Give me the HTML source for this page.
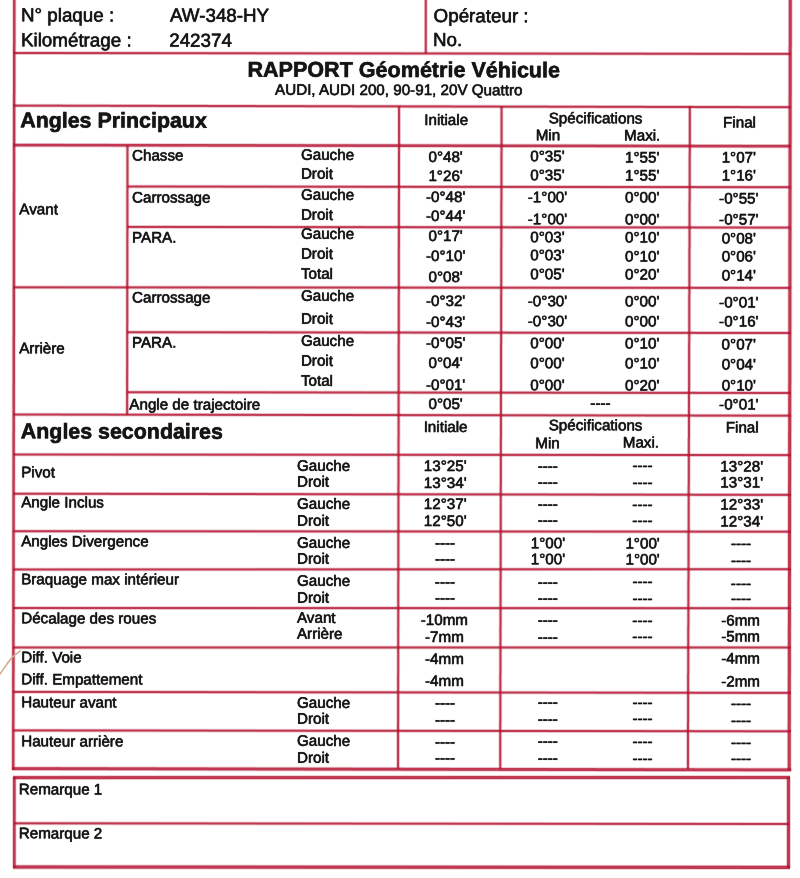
<!DOCTYPE html>
<html lang="fr">
<head>
<meta charset="utf-8">
<title>RAPPORT Géométrie Véhicule</title>
<style>
html,body{margin:0;padding:0;background:#fff;}
body{width:800px;height:878px;position:relative;overflow:hidden;font-family:"Liberation Sans",sans-serif;color:#151515;}
#pg{position:absolute;left:0;top:0;width:800px;height:878px;overflow:hidden;background:#fff;}
.t{position:absolute;white-space:nowrap;line-height:1;}
.c{transform:translateX(-50%);}
.b{font-weight:bold;}
.d{-webkit-text-stroke:0.55px #151515;}
.ln{position:absolute;}
#lines,#txt{position:absolute;left:0;top:0;width:800px;height:878px;}
#txt{-webkit-text-stroke:0.45px #151515;text-shadow:0 0 0.8px #151515;filter:grayscale(1);transform:rotate(0.1deg);transform-origin:400px 439px;}
</style>
</head>
<body>
<div id="pg">
<svg id="lines" width="800" height="878" viewBox="0 0 800 878">
<g fill="#b41432" stroke="none">
<g fill-opacity="0.24">
<rect x="12.22" y="-2.00" width="4.10" height="48.00"/>
<rect x="12.15" y="46.00" width="4.10" height="48.00"/>
<rect x="12.08" y="94.00" width="4.10" height="49.00"/>
<rect x="12.01" y="143.00" width="4.10" height="48.00"/>
<rect x="11.94" y="191.00" width="4.10" height="48.00"/>
<rect x="11.87" y="239.00" width="4.10" height="49.00"/>
<rect x="11.80" y="288.00" width="4.10" height="48.00"/>
<rect x="11.74" y="336.00" width="4.10" height="48.00"/>
<rect x="11.67" y="384.00" width="4.10" height="48.00"/>
<rect x="11.60" y="432.00" width="4.10" height="48.00"/>
<rect x="11.53" y="480.00" width="4.10" height="49.00"/>
<rect x="11.46" y="529.00" width="4.10" height="48.00"/>
<rect x="11.39" y="577.00" width="4.10" height="48.00"/>
<rect x="11.32" y="625.00" width="4.10" height="49.00"/>
<rect x="11.25" y="674.00" width="4.10" height="48.00"/>
<rect x="11.18" y="722.00" width="4.10" height="48.00"/>
<rect x="787.92" y="-2.00" width="4.70" height="48.00"/>
<rect x="787.85" y="46.00" width="4.70" height="49.00"/>
<rect x="787.78" y="95.00" width="4.70" height="48.00"/>
<rect x="787.71" y="143.00" width="4.70" height="48.00"/>
<rect x="787.64" y="191.00" width="4.70" height="48.00"/>
<rect x="787.57" y="239.00" width="4.70" height="49.00"/>
<rect x="787.50" y="288.00" width="4.70" height="48.00"/>
<rect x="787.44" y="336.00" width="4.70" height="48.00"/>
<rect x="787.37" y="384.00" width="4.70" height="48.00"/>
<rect x="787.30" y="432.00" width="4.70" height="49.00"/>
<rect x="787.23" y="481.00" width="4.70" height="48.00"/>
<rect x="787.16" y="529.00" width="4.70" height="48.00"/>
<rect x="787.09" y="577.00" width="4.70" height="49.00"/>
<rect x="787.02" y="626.00" width="4.70" height="48.00"/>
<rect x="786.95" y="674.00" width="4.70" height="48.00"/>
<rect x="786.88" y="722.00" width="4.70" height="48.40"/>
<rect x="423.95" y="-2.00" width="3.70" height="55.60"/>
<rect x="125.62" y="145.60" width="3.70" height="44.40"/>
<rect x="125.55" y="190.00" width="3.70" height="45.00"/>
<rect x="125.48" y="235.00" width="3.70" height="45.00"/>
<rect x="125.42" y="280.00" width="3.70" height="45.00"/>
<rect x="125.35" y="325.00" width="3.70" height="45.00"/>
<rect x="125.28" y="370.00" width="3.70" height="44.80"/>
<rect x="397.21" y="106.00" width="3.70" height="47.00"/>
<rect x="397.13" y="153.00" width="3.70" height="48.00"/>
<rect x="397.05" y="201.00" width="3.70" height="47.00"/>
<rect x="396.98" y="248.00" width="3.70" height="47.00"/>
<rect x="396.90" y="295.00" width="3.70" height="48.00"/>
<rect x="396.82" y="343.00" width="3.70" height="47.00"/>
<rect x="396.74" y="390.00" width="3.70" height="48.00"/>
<rect x="396.66" y="438.00" width="3.70" height="47.00"/>
<rect x="396.58" y="485.00" width="3.70" height="47.00"/>
<rect x="396.50" y="532.00" width="3.70" height="48.00"/>
<rect x="396.42" y="580.00" width="3.70" height="47.00"/>
<rect x="396.35" y="627.00" width="3.70" height="47.00"/>
<rect x="396.27" y="674.00" width="3.70" height="48.00"/>
<rect x="396.19" y="722.00" width="3.70" height="47.00"/>
<rect x="499.70" y="106.00" width="3.70" height="47.00"/>
<rect x="499.60" y="153.00" width="3.70" height="48.00"/>
<rect x="499.50" y="201.00" width="3.70" height="47.00"/>
<rect x="499.40" y="248.00" width="3.70" height="47.00"/>
<rect x="499.30" y="295.00" width="3.70" height="48.00"/>
<rect x="499.20" y="343.00" width="3.70" height="47.00"/>
<rect x="499.10" y="390.00" width="3.70" height="48.00"/>
<rect x="499.00" y="438.00" width="3.70" height="47.00"/>
<rect x="498.90" y="485.00" width="3.70" height="47.00"/>
<rect x="498.80" y="532.00" width="3.70" height="48.00"/>
<rect x="498.70" y="580.00" width="3.70" height="47.00"/>
<rect x="498.60" y="627.00" width="3.70" height="47.00"/>
<rect x="498.50" y="674.00" width="3.70" height="48.00"/>
<rect x="498.40" y="722.00" width="3.70" height="47.00"/>
<rect x="687.98" y="106.00" width="3.70" height="47.00"/>
<rect x="687.84" y="153.00" width="3.70" height="48.00"/>
<rect x="687.69" y="201.00" width="3.70" height="47.00"/>
<rect x="687.55" y="248.00" width="3.70" height="47.00"/>
<rect x="687.41" y="295.00" width="3.70" height="48.00"/>
<rect x="687.26" y="343.00" width="3.70" height="47.00"/>
<rect x="687.12" y="390.00" width="3.70" height="48.00"/>
<rect x="686.98" y="438.00" width="3.70" height="47.00"/>
<rect x="686.84" y="485.00" width="3.70" height="47.00"/>
<rect x="686.69" y="532.00" width="3.70" height="48.00"/>
<rect x="686.55" y="580.00" width="3.70" height="47.00"/>
<rect x="686.41" y="627.00" width="3.70" height="47.00"/>
<rect x="686.26" y="674.00" width="3.70" height="48.00"/>
<rect x="686.12" y="722.00" width="3.70" height="47.00"/>
<rect x="13.00" y="51.18" width="49.00" height="3.70"/>
<rect x="62.00" y="51.23" width="48.00" height="3.70"/>
<rect x="110.00" y="51.29" width="49.00" height="3.70"/>
<rect x="159.00" y="51.35" width="49.00" height="3.70"/>
<rect x="208.00" y="51.40" width="48.00" height="3.70"/>
<rect x="256.00" y="51.46" width="49.00" height="3.70"/>
<rect x="305.00" y="51.52" width="48.00" height="3.70"/>
<rect x="353.00" y="51.57" width="49.00" height="3.70"/>
<rect x="402.00" y="51.63" width="49.00" height="3.70"/>
<rect x="451.00" y="51.68" width="48.00" height="3.70"/>
<rect x="499.00" y="51.74" width="49.00" height="3.70"/>
<rect x="548.00" y="51.80" width="48.00" height="3.70"/>
<rect x="596.00" y="51.85" width="49.00" height="3.70"/>
<rect x="645.00" y="51.91" width="49.00" height="3.70"/>
<rect x="694.00" y="51.97" width="48.00" height="3.70"/>
<rect x="742.00" y="52.02" width="49.00" height="3.70"/>
<rect x="13.00" y="103.80" width="49.00" height="3.70"/>
<rect x="62.00" y="103.90" width="48.00" height="3.70"/>
<rect x="110.00" y="104.00" width="49.00" height="3.70"/>
<rect x="159.00" y="104.10" width="49.00" height="3.70"/>
<rect x="208.00" y="104.20" width="48.00" height="3.70"/>
<rect x="256.00" y="104.30" width="49.00" height="3.70"/>
<rect x="305.00" y="104.40" width="48.00" height="3.70"/>
<rect x="353.00" y="104.50" width="49.00" height="3.70"/>
<rect x="402.00" y="104.60" width="49.00" height="3.70"/>
<rect x="451.00" y="104.70" width="48.00" height="3.70"/>
<rect x="499.00" y="104.80" width="49.00" height="3.70"/>
<rect x="548.00" y="104.90" width="48.00" height="3.70"/>
<rect x="596.00" y="105.00" width="49.00" height="3.70"/>
<rect x="645.00" y="105.10" width="49.00" height="3.70"/>
<rect x="694.00" y="105.20" width="48.00" height="3.70"/>
<rect x="742.00" y="105.30" width="49.00" height="3.70"/>
<rect x="13.00" y="142.98" width="49.00" height="4.30"/>
<rect x="62.00" y="143.05" width="48.00" height="4.30"/>
<rect x="110.00" y="143.12" width="49.00" height="4.30"/>
<rect x="159.00" y="143.19" width="49.00" height="4.30"/>
<rect x="208.00" y="143.26" width="48.00" height="4.30"/>
<rect x="256.00" y="143.33" width="49.00" height="4.30"/>
<rect x="305.00" y="143.40" width="48.00" height="4.30"/>
<rect x="353.00" y="143.47" width="49.00" height="4.30"/>
<rect x="402.00" y="143.53" width="49.00" height="4.30"/>
<rect x="451.00" y="143.60" width="48.00" height="4.30"/>
<rect x="499.00" y="143.67" width="49.00" height="4.30"/>
<rect x="548.00" y="143.74" width="48.00" height="4.30"/>
<rect x="596.00" y="143.81" width="49.00" height="4.30"/>
<rect x="645.00" y="143.88" width="49.00" height="4.30"/>
<rect x="694.00" y="143.95" width="48.00" height="4.30"/>
<rect x="742.00" y="144.02" width="49.00" height="4.30"/>
<rect x="127.40" y="184.69" width="47.60" height="3.70"/>
<rect x="175.00" y="184.74" width="47.00" height="3.70"/>
<rect x="222.00" y="184.79" width="48.00" height="3.70"/>
<rect x="270.00" y="184.84" width="47.00" height="3.70"/>
<rect x="317.00" y="184.89" width="47.00" height="3.70"/>
<rect x="364.00" y="184.94" width="48.00" height="3.70"/>
<rect x="412.00" y="184.98" width="47.00" height="3.70"/>
<rect x="459.00" y="185.03" width="48.00" height="3.70"/>
<rect x="507.00" y="185.08" width="47.00" height="3.70"/>
<rect x="554.00" y="185.13" width="47.00" height="3.70"/>
<rect x="601.00" y="185.18" width="48.00" height="3.70"/>
<rect x="649.00" y="185.23" width="47.00" height="3.70"/>
<rect x="696.00" y="185.28" width="48.00" height="3.70"/>
<rect x="744.00" y="185.33" width="47.00" height="3.70"/>
<rect x="127.30" y="225.09" width="47.70" height="3.70"/>
<rect x="175.00" y="225.14" width="47.00" height="3.70"/>
<rect x="222.00" y="225.19" width="48.00" height="3.70"/>
<rect x="270.00" y="225.24" width="47.00" height="3.70"/>
<rect x="317.00" y="225.29" width="47.00" height="3.70"/>
<rect x="364.00" y="225.34" width="48.00" height="3.70"/>
<rect x="412.00" y="225.38" width="47.00" height="3.70"/>
<rect x="459.00" y="225.43" width="48.00" height="3.70"/>
<rect x="507.00" y="225.48" width="47.00" height="3.70"/>
<rect x="554.00" y="225.53" width="47.00" height="3.70"/>
<rect x="601.00" y="225.58" width="48.00" height="3.70"/>
<rect x="649.00" y="225.63" width="47.00" height="3.70"/>
<rect x="696.00" y="225.68" width="48.00" height="3.70"/>
<rect x="744.00" y="225.73" width="47.00" height="3.70"/>
<rect x="13.00" y="285.47" width="49.00" height="3.70"/>
<rect x="62.00" y="285.51" width="48.00" height="3.70"/>
<rect x="110.00" y="285.54" width="49.00" height="3.70"/>
<rect x="159.00" y="285.58" width="49.00" height="3.70"/>
<rect x="208.00" y="285.62" width="48.00" height="3.70"/>
<rect x="256.00" y="285.66" width="49.00" height="3.70"/>
<rect x="305.00" y="285.69" width="48.00" height="3.70"/>
<rect x="353.00" y="285.73" width="49.00" height="3.70"/>
<rect x="402.00" y="285.77" width="49.00" height="3.70"/>
<rect x="451.00" y="285.81" width="48.00" height="3.70"/>
<rect x="499.00" y="285.84" width="49.00" height="3.70"/>
<rect x="548.00" y="285.88" width="48.00" height="3.70"/>
<rect x="596.00" y="285.92" width="49.00" height="3.70"/>
<rect x="645.00" y="285.96" width="49.00" height="3.70"/>
<rect x="694.00" y="285.99" width="48.00" height="3.70"/>
<rect x="742.00" y="286.03" width="49.00" height="3.70"/>
<rect x="127.20" y="330.41" width="47.80" height="3.70"/>
<rect x="175.00" y="330.46" width="47.00" height="3.70"/>
<rect x="222.00" y="330.52" width="47.00" height="3.70"/>
<rect x="269.00" y="330.57" width="48.00" height="3.70"/>
<rect x="317.00" y="330.63" width="47.00" height="3.70"/>
<rect x="364.00" y="330.68" width="48.00" height="3.70"/>
<rect x="412.00" y="330.74" width="47.00" height="3.70"/>
<rect x="459.00" y="330.79" width="48.00" height="3.70"/>
<rect x="507.00" y="330.85" width="47.00" height="3.70"/>
<rect x="554.00" y="330.90" width="47.00" height="3.70"/>
<rect x="601.00" y="330.96" width="48.00" height="3.70"/>
<rect x="649.00" y="331.01" width="47.00" height="3.70"/>
<rect x="696.00" y="331.07" width="48.00" height="3.70"/>
<rect x="744.00" y="331.12" width="47.00" height="3.70"/>
<rect x="127.10" y="390.41" width="47.90" height="3.70"/>
<rect x="175.00" y="390.46" width="47.00" height="3.70"/>
<rect x="222.00" y="390.52" width="47.00" height="3.70"/>
<rect x="269.00" y="390.57" width="48.00" height="3.70"/>
<rect x="317.00" y="390.63" width="47.00" height="3.70"/>
<rect x="364.00" y="390.68" width="48.00" height="3.70"/>
<rect x="412.00" y="390.74" width="47.00" height="3.70"/>
<rect x="459.00" y="390.79" width="47.00" height="3.70"/>
<rect x="506.00" y="390.85" width="48.00" height="3.70"/>
<rect x="554.00" y="390.90" width="47.00" height="3.70"/>
<rect x="601.00" y="390.96" width="48.00" height="3.70"/>
<rect x="649.00" y="391.01" width="47.00" height="3.70"/>
<rect x="696.00" y="391.07" width="48.00" height="3.70"/>
<rect x="744.00" y="391.12" width="47.00" height="3.70"/>
<rect x="13.00" y="412.69" width="49.00" height="3.70"/>
<rect x="62.00" y="412.76" width="48.00" height="3.70"/>
<rect x="110.00" y="412.84" width="49.00" height="3.70"/>
<rect x="159.00" y="412.91" width="49.00" height="3.70"/>
<rect x="208.00" y="412.99" width="48.00" height="3.70"/>
<rect x="256.00" y="413.06" width="49.00" height="3.70"/>
<rect x="305.00" y="413.14" width="48.00" height="3.70"/>
<rect x="353.00" y="413.21" width="49.00" height="3.70"/>
<rect x="402.00" y="413.29" width="49.00" height="3.70"/>
<rect x="451.00" y="413.36" width="48.00" height="3.70"/>
<rect x="499.00" y="413.44" width="49.00" height="3.70"/>
<rect x="548.00" y="413.51" width="48.00" height="3.70"/>
<rect x="596.00" y="413.59" width="49.00" height="3.70"/>
<rect x="645.00" y="413.66" width="49.00" height="3.70"/>
<rect x="694.00" y="413.74" width="48.00" height="3.70"/>
<rect x="742.00" y="413.81" width="49.00" height="3.70"/>
<rect x="13.00" y="452.67" width="49.00" height="3.70"/>
<rect x="62.00" y="452.71" width="48.00" height="3.70"/>
<rect x="110.00" y="452.74" width="49.00" height="3.70"/>
<rect x="159.00" y="452.78" width="49.00" height="3.70"/>
<rect x="208.00" y="452.82" width="48.00" height="3.70"/>
<rect x="256.00" y="452.86" width="49.00" height="3.70"/>
<rect x="305.00" y="452.89" width="48.00" height="3.70"/>
<rect x="353.00" y="452.93" width="49.00" height="3.70"/>
<rect x="402.00" y="452.97" width="49.00" height="3.70"/>
<rect x="451.00" y="453.01" width="48.00" height="3.70"/>
<rect x="499.00" y="453.04" width="49.00" height="3.70"/>
<rect x="548.00" y="453.08" width="48.00" height="3.70"/>
<rect x="596.00" y="453.12" width="49.00" height="3.70"/>
<rect x="645.00" y="453.16" width="49.00" height="3.70"/>
<rect x="694.00" y="453.19" width="48.00" height="3.70"/>
<rect x="742.00" y="453.23" width="49.00" height="3.70"/>
<rect x="13.00" y="491.89" width="49.00" height="3.70"/>
<rect x="62.00" y="491.96" width="48.00" height="3.70"/>
<rect x="110.00" y="492.04" width="49.00" height="3.70"/>
<rect x="159.00" y="492.11" width="49.00" height="3.70"/>
<rect x="208.00" y="492.19" width="48.00" height="3.70"/>
<rect x="256.00" y="492.26" width="49.00" height="3.70"/>
<rect x="305.00" y="492.34" width="48.00" height="3.70"/>
<rect x="353.00" y="492.41" width="49.00" height="3.70"/>
<rect x="402.00" y="492.49" width="49.00" height="3.70"/>
<rect x="451.00" y="492.56" width="48.00" height="3.70"/>
<rect x="499.00" y="492.64" width="49.00" height="3.70"/>
<rect x="548.00" y="492.71" width="48.00" height="3.70"/>
<rect x="596.00" y="492.79" width="49.00" height="3.70"/>
<rect x="645.00" y="492.86" width="49.00" height="3.70"/>
<rect x="694.00" y="492.94" width="48.00" height="3.70"/>
<rect x="742.00" y="493.01" width="49.00" height="3.70"/>
<rect x="13.00" y="529.37" width="49.00" height="3.70"/>
<rect x="62.00" y="529.40" width="48.00" height="3.70"/>
<rect x="110.00" y="529.43" width="49.00" height="3.70"/>
<rect x="159.00" y="529.46" width="49.00" height="3.70"/>
<rect x="208.00" y="529.49" width="48.00" height="3.70"/>
<rect x="256.00" y="529.52" width="49.00" height="3.70"/>
<rect x="305.00" y="529.55" width="48.00" height="3.70"/>
<rect x="353.00" y="529.58" width="49.00" height="3.70"/>
<rect x="402.00" y="529.62" width="49.00" height="3.70"/>
<rect x="451.00" y="529.65" width="48.00" height="3.70"/>
<rect x="499.00" y="529.68" width="49.00" height="3.70"/>
<rect x="548.00" y="529.71" width="48.00" height="3.70"/>
<rect x="596.00" y="529.74" width="49.00" height="3.70"/>
<rect x="645.00" y="529.77" width="49.00" height="3.70"/>
<rect x="694.00" y="529.80" width="48.00" height="3.70"/>
<rect x="742.00" y="529.83" width="49.00" height="3.70"/>
<rect x="13.00" y="567.64" width="49.00" height="3.70"/>
<rect x="62.00" y="567.62" width="48.00" height="3.70"/>
<rect x="110.00" y="567.60" width="49.00" height="3.70"/>
<rect x="159.00" y="567.58" width="49.00" height="3.70"/>
<rect x="208.00" y="567.57" width="48.00" height="3.70"/>
<rect x="256.00" y="567.55" width="49.00" height="3.70"/>
<rect x="305.00" y="567.53" width="48.00" height="3.70"/>
<rect x="353.00" y="567.51" width="49.00" height="3.70"/>
<rect x="402.00" y="567.49" width="49.00" height="3.70"/>
<rect x="451.00" y="567.47" width="48.00" height="3.70"/>
<rect x="499.00" y="567.45" width="49.00" height="3.70"/>
<rect x="548.00" y="567.43" width="48.00" height="3.70"/>
<rect x="596.00" y="567.42" width="49.00" height="3.70"/>
<rect x="645.00" y="567.40" width="49.00" height="3.70"/>
<rect x="694.00" y="567.38" width="48.00" height="3.70"/>
<rect x="742.00" y="567.36" width="49.00" height="3.70"/>
<rect x="13.00" y="606.16" width="49.00" height="3.70"/>
<rect x="62.00" y="606.17" width="48.00" height="3.70"/>
<rect x="110.00" y="606.18" width="49.00" height="3.70"/>
<rect x="159.00" y="606.19" width="49.00" height="3.70"/>
<rect x="208.00" y="606.21" width="48.00" height="3.70"/>
<rect x="256.00" y="606.22" width="49.00" height="3.70"/>
<rect x="305.00" y="606.23" width="48.00" height="3.70"/>
<rect x="353.00" y="606.24" width="49.00" height="3.70"/>
<rect x="402.00" y="606.26" width="49.00" height="3.70"/>
<rect x="451.00" y="606.27" width="48.00" height="3.70"/>
<rect x="499.00" y="606.28" width="49.00" height="3.70"/>
<rect x="548.00" y="606.29" width="48.00" height="3.70"/>
<rect x="596.00" y="606.31" width="49.00" height="3.70"/>
<rect x="645.00" y="606.32" width="49.00" height="3.70"/>
<rect x="694.00" y="606.33" width="48.00" height="3.70"/>
<rect x="742.00" y="606.34" width="49.00" height="3.70"/>
<rect x="13.00" y="645.65" width="49.00" height="3.70"/>
<rect x="62.00" y="645.65" width="48.00" height="3.70"/>
<rect x="110.00" y="645.65" width="49.00" height="3.70"/>
<rect x="159.00" y="645.65" width="49.00" height="3.70"/>
<rect x="208.00" y="645.65" width="48.00" height="3.70"/>
<rect x="256.00" y="645.65" width="49.00" height="3.70"/>
<rect x="305.00" y="645.65" width="48.00" height="3.70"/>
<rect x="353.00" y="645.65" width="49.00" height="3.70"/>
<rect x="402.00" y="645.65" width="49.00" height="3.70"/>
<rect x="451.00" y="645.65" width="48.00" height="3.70"/>
<rect x="499.00" y="645.65" width="49.00" height="3.70"/>
<rect x="548.00" y="645.65" width="48.00" height="3.70"/>
<rect x="596.00" y="645.65" width="49.00" height="3.70"/>
<rect x="645.00" y="645.65" width="49.00" height="3.70"/>
<rect x="694.00" y="645.65" width="48.00" height="3.70"/>
<rect x="742.00" y="645.65" width="49.00" height="3.70"/>
<rect x="13.00" y="690.08" width="49.00" height="3.70"/>
<rect x="62.00" y="690.14" width="48.00" height="3.70"/>
<rect x="110.00" y="690.21" width="49.00" height="3.70"/>
<rect x="159.00" y="690.27" width="49.00" height="3.70"/>
<rect x="208.00" y="690.33" width="48.00" height="3.70"/>
<rect x="256.00" y="690.39" width="49.00" height="3.70"/>
<rect x="305.00" y="690.46" width="48.00" height="3.70"/>
<rect x="353.00" y="690.52" width="49.00" height="3.70"/>
<rect x="402.00" y="690.58" width="49.00" height="3.70"/>
<rect x="451.00" y="690.64" width="48.00" height="3.70"/>
<rect x="499.00" y="690.71" width="49.00" height="3.70"/>
<rect x="548.00" y="690.77" width="48.00" height="3.70"/>
<rect x="596.00" y="690.83" width="49.00" height="3.70"/>
<rect x="645.00" y="690.89" width="49.00" height="3.70"/>
<rect x="694.00" y="690.96" width="48.00" height="3.70"/>
<rect x="742.00" y="691.02" width="49.00" height="3.70"/>
<rect x="13.00" y="728.58" width="49.00" height="3.70"/>
<rect x="62.00" y="728.63" width="48.00" height="3.70"/>
<rect x="110.00" y="728.69" width="49.00" height="3.70"/>
<rect x="159.00" y="728.75" width="49.00" height="3.70"/>
<rect x="208.00" y="728.80" width="48.00" height="3.70"/>
<rect x="256.00" y="728.86" width="49.00" height="3.70"/>
<rect x="305.00" y="728.92" width="48.00" height="3.70"/>
<rect x="353.00" y="728.97" width="49.00" height="3.70"/>
<rect x="402.00" y="729.03" width="49.00" height="3.70"/>
<rect x="451.00" y="729.08" width="48.00" height="3.70"/>
<rect x="499.00" y="729.14" width="49.00" height="3.70"/>
<rect x="548.00" y="729.20" width="48.00" height="3.70"/>
<rect x="596.00" y="729.25" width="49.00" height="3.70"/>
<rect x="645.00" y="729.31" width="49.00" height="3.70"/>
<rect x="694.00" y="729.37" width="48.00" height="3.70"/>
<rect x="742.00" y="729.42" width="49.00" height="3.70"/>
<rect x="12.00" y="766.34" width="49.00" height="4.60"/>
<rect x="61.00" y="766.42" width="48.00" height="4.60"/>
<rect x="109.00" y="766.50" width="49.00" height="4.60"/>
<rect x="158.00" y="766.58" width="49.00" height="4.60"/>
<rect x="207.00" y="766.66" width="49.00" height="4.60"/>
<rect x="256.00" y="766.75" width="48.00" height="4.60"/>
<rect x="304.00" y="766.83" width="49.00" height="4.60"/>
<rect x="353.00" y="766.91" width="49.00" height="4.60"/>
<rect x="402.00" y="766.99" width="48.00" height="4.60"/>
<rect x="450.00" y="767.07" width="49.00" height="4.60"/>
<rect x="499.00" y="767.15" width="49.00" height="4.60"/>
<rect x="548.00" y="767.23" width="48.00" height="4.60"/>
<rect x="596.00" y="767.32" width="49.00" height="4.60"/>
<rect x="645.00" y="767.40" width="49.00" height="4.60"/>
<rect x="694.00" y="767.48" width="48.00" height="4.60"/>
<rect x="742.00" y="767.56" width="49.20" height="4.60"/>
<rect x="13.00" y="775.25" width="49.00" height="4.70"/>
<rect x="62.00" y="775.24" width="48.00" height="4.70"/>
<rect x="110.00" y="775.23" width="49.00" height="4.70"/>
<rect x="159.00" y="775.23" width="48.00" height="4.70"/>
<rect x="207.00" y="775.22" width="49.00" height="4.70"/>
<rect x="256.00" y="775.22" width="48.00" height="4.70"/>
<rect x="304.00" y="775.21" width="49.00" height="4.70"/>
<rect x="353.00" y="775.20" width="49.00" height="4.70"/>
<rect x="402.00" y="775.20" width="48.00" height="4.70"/>
<rect x="450.00" y="775.19" width="49.00" height="4.70"/>
<rect x="499.00" y="775.18" width="48.00" height="4.70"/>
<rect x="547.00" y="775.18" width="49.00" height="4.70"/>
<rect x="596.00" y="775.17" width="48.00" height="4.70"/>
<rect x="644.00" y="775.17" width="49.00" height="4.70"/>
<rect x="693.00" y="775.16" width="48.00" height="4.70"/>
<rect x="741.00" y="775.15" width="49.00" height="4.70"/>
<rect x="14.00" y="821.47" width="48.00" height="3.70"/>
<rect x="62.00" y="821.52" width="49.00" height="3.70"/>
<rect x="111.00" y="821.56" width="48.00" height="3.70"/>
<rect x="159.00" y="821.60" width="49.00" height="3.70"/>
<rect x="208.00" y="821.65" width="48.00" height="3.70"/>
<rect x="256.00" y="821.69" width="49.00" height="3.70"/>
<rect x="305.00" y="821.73" width="48.00" height="3.70"/>
<rect x="353.00" y="821.78" width="49.00" height="3.70"/>
<rect x="402.00" y="821.82" width="48.00" height="3.70"/>
<rect x="450.00" y="821.86" width="48.00" height="3.70"/>
<rect x="498.00" y="821.91" width="49.00" height="3.70"/>
<rect x="547.00" y="821.95" width="48.00" height="3.70"/>
<rect x="595.00" y="822.00" width="49.00" height="3.70"/>
<rect x="644.00" y="822.04" width="48.00" height="3.70"/>
<rect x="692.00" y="822.08" width="49.00" height="3.70"/>
<rect x="741.00" y="822.13" width="48.00" height="3.70"/>
<rect x="13.00" y="864.56" width="49.00" height="4.90"/>
<rect x="62.00" y="864.59" width="48.00" height="4.90"/>
<rect x="110.00" y="864.61" width="49.00" height="4.90"/>
<rect x="159.00" y="864.64" width="48.00" height="4.90"/>
<rect x="207.00" y="864.66" width="49.00" height="4.90"/>
<rect x="256.00" y="864.69" width="48.00" height="4.90"/>
<rect x="304.00" y="864.71" width="49.00" height="4.90"/>
<rect x="353.00" y="864.74" width="49.00" height="4.90"/>
<rect x="402.00" y="864.76" width="48.00" height="4.90"/>
<rect x="450.00" y="864.79" width="49.00" height="4.90"/>
<rect x="499.00" y="864.81" width="48.00" height="4.90"/>
<rect x="547.00" y="864.84" width="49.00" height="4.90"/>
<rect x="596.00" y="864.86" width="48.00" height="4.90"/>
<rect x="644.00" y="864.89" width="49.00" height="4.90"/>
<rect x="693.00" y="864.91" width="48.00" height="4.90"/>
<rect x="741.00" y="864.94" width="49.00" height="4.90"/>
<rect x="12.15" y="777.00" width="4.30" height="45.00"/>
<rect x="12.15" y="822.00" width="4.30" height="46.00"/>
<rect x="786.15" y="777.00" width="4.70" height="45.00"/>
<rect x="786.15" y="822.00" width="4.70" height="46.00"/>
</g>
<g fill-opacity="0.8">
<rect x="13.07" y="-2.00" width="2.40" height="48.00"/>
<rect x="13.00" y="46.00" width="2.40" height="48.00"/>
<rect x="12.93" y="94.00" width="2.40" height="49.00"/>
<rect x="12.86" y="143.00" width="2.40" height="48.00"/>
<rect x="12.79" y="191.00" width="2.40" height="48.00"/>
<rect x="12.72" y="239.00" width="2.40" height="49.00"/>
<rect x="12.65" y="288.00" width="2.40" height="48.00"/>
<rect x="12.59" y="336.00" width="2.40" height="48.00"/>
<rect x="12.52" y="384.00" width="2.40" height="48.00"/>
<rect x="12.45" y="432.00" width="2.40" height="48.00"/>
<rect x="12.38" y="480.00" width="2.40" height="49.00"/>
<rect x="12.31" y="529.00" width="2.40" height="48.00"/>
<rect x="12.24" y="577.00" width="2.40" height="48.00"/>
<rect x="12.17" y="625.00" width="2.40" height="49.00"/>
<rect x="12.10" y="674.00" width="2.40" height="48.00"/>
<rect x="12.03" y="722.00" width="2.40" height="48.00"/>
<rect x="788.77" y="-2.00" width="3.00" height="48.00"/>
<rect x="788.70" y="46.00" width="3.00" height="49.00"/>
<rect x="788.63" y="95.00" width="3.00" height="48.00"/>
<rect x="788.56" y="143.00" width="3.00" height="48.00"/>
<rect x="788.49" y="191.00" width="3.00" height="48.00"/>
<rect x="788.42" y="239.00" width="3.00" height="49.00"/>
<rect x="788.35" y="288.00" width="3.00" height="48.00"/>
<rect x="788.29" y="336.00" width="3.00" height="48.00"/>
<rect x="788.22" y="384.00" width="3.00" height="48.00"/>
<rect x="788.15" y="432.00" width="3.00" height="49.00"/>
<rect x="788.08" y="481.00" width="3.00" height="48.00"/>
<rect x="788.01" y="529.00" width="3.00" height="48.00"/>
<rect x="787.94" y="577.00" width="3.00" height="49.00"/>
<rect x="787.87" y="626.00" width="3.00" height="48.00"/>
<rect x="787.80" y="674.00" width="3.00" height="48.00"/>
<rect x="787.73" y="722.00" width="3.00" height="48.40"/>
<rect x="424.80" y="-2.00" width="2.00" height="55.60"/>
<rect x="126.47" y="145.60" width="2.00" height="44.40"/>
<rect x="126.40" y="190.00" width="2.00" height="45.00"/>
<rect x="126.33" y="235.00" width="2.00" height="45.00"/>
<rect x="126.27" y="280.00" width="2.00" height="45.00"/>
<rect x="126.20" y="325.00" width="2.00" height="45.00"/>
<rect x="126.13" y="370.00" width="2.00" height="44.80"/>
<rect x="398.06" y="106.00" width="2.00" height="47.00"/>
<rect x="397.98" y="153.00" width="2.00" height="48.00"/>
<rect x="397.90" y="201.00" width="2.00" height="47.00"/>
<rect x="397.83" y="248.00" width="2.00" height="47.00"/>
<rect x="397.75" y="295.00" width="2.00" height="48.00"/>
<rect x="397.67" y="343.00" width="2.00" height="47.00"/>
<rect x="397.59" y="390.00" width="2.00" height="48.00"/>
<rect x="397.51" y="438.00" width="2.00" height="47.00"/>
<rect x="397.43" y="485.00" width="2.00" height="47.00"/>
<rect x="397.35" y="532.00" width="2.00" height="48.00"/>
<rect x="397.27" y="580.00" width="2.00" height="47.00"/>
<rect x="397.20" y="627.00" width="2.00" height="47.00"/>
<rect x="397.12" y="674.00" width="2.00" height="48.00"/>
<rect x="397.04" y="722.00" width="2.00" height="47.00"/>
<rect x="500.55" y="106.00" width="2.00" height="47.00"/>
<rect x="500.45" y="153.00" width="2.00" height="48.00"/>
<rect x="500.35" y="201.00" width="2.00" height="47.00"/>
<rect x="500.25" y="248.00" width="2.00" height="47.00"/>
<rect x="500.15" y="295.00" width="2.00" height="48.00"/>
<rect x="500.05" y="343.00" width="2.00" height="47.00"/>
<rect x="499.95" y="390.00" width="2.00" height="48.00"/>
<rect x="499.85" y="438.00" width="2.00" height="47.00"/>
<rect x="499.75" y="485.00" width="2.00" height="47.00"/>
<rect x="499.65" y="532.00" width="2.00" height="48.00"/>
<rect x="499.55" y="580.00" width="2.00" height="47.00"/>
<rect x="499.45" y="627.00" width="2.00" height="47.00"/>
<rect x="499.35" y="674.00" width="2.00" height="48.00"/>
<rect x="499.25" y="722.00" width="2.00" height="47.00"/>
<rect x="688.83" y="106.00" width="2.00" height="47.00"/>
<rect x="688.69" y="153.00" width="2.00" height="48.00"/>
<rect x="688.54" y="201.00" width="2.00" height="47.00"/>
<rect x="688.40" y="248.00" width="2.00" height="47.00"/>
<rect x="688.26" y="295.00" width="2.00" height="48.00"/>
<rect x="688.11" y="343.00" width="2.00" height="47.00"/>
<rect x="687.97" y="390.00" width="2.00" height="48.00"/>
<rect x="687.83" y="438.00" width="2.00" height="47.00"/>
<rect x="687.69" y="485.00" width="2.00" height="47.00"/>
<rect x="687.54" y="532.00" width="2.00" height="48.00"/>
<rect x="687.40" y="580.00" width="2.00" height="47.00"/>
<rect x="687.26" y="627.00" width="2.00" height="47.00"/>
<rect x="687.11" y="674.00" width="2.00" height="48.00"/>
<rect x="686.97" y="722.00" width="2.00" height="47.00"/>
<rect x="13.00" y="52.03" width="49.00" height="2.00"/>
<rect x="62.00" y="52.08" width="48.00" height="2.00"/>
<rect x="110.00" y="52.14" width="49.00" height="2.00"/>
<rect x="159.00" y="52.20" width="49.00" height="2.00"/>
<rect x="208.00" y="52.25" width="48.00" height="2.00"/>
<rect x="256.00" y="52.31" width="49.00" height="2.00"/>
<rect x="305.00" y="52.37" width="48.00" height="2.00"/>
<rect x="353.00" y="52.42" width="49.00" height="2.00"/>
<rect x="402.00" y="52.48" width="49.00" height="2.00"/>
<rect x="451.00" y="52.53" width="48.00" height="2.00"/>
<rect x="499.00" y="52.59" width="49.00" height="2.00"/>
<rect x="548.00" y="52.65" width="48.00" height="2.00"/>
<rect x="596.00" y="52.70" width="49.00" height="2.00"/>
<rect x="645.00" y="52.76" width="49.00" height="2.00"/>
<rect x="694.00" y="52.82" width="48.00" height="2.00"/>
<rect x="742.00" y="52.87" width="49.00" height="2.00"/>
<rect x="13.00" y="104.65" width="49.00" height="2.00"/>
<rect x="62.00" y="104.75" width="48.00" height="2.00"/>
<rect x="110.00" y="104.85" width="49.00" height="2.00"/>
<rect x="159.00" y="104.95" width="49.00" height="2.00"/>
<rect x="208.00" y="105.05" width="48.00" height="2.00"/>
<rect x="256.00" y="105.15" width="49.00" height="2.00"/>
<rect x="305.00" y="105.25" width="48.00" height="2.00"/>
<rect x="353.00" y="105.35" width="49.00" height="2.00"/>
<rect x="402.00" y="105.45" width="49.00" height="2.00"/>
<rect x="451.00" y="105.55" width="48.00" height="2.00"/>
<rect x="499.00" y="105.65" width="49.00" height="2.00"/>
<rect x="548.00" y="105.75" width="48.00" height="2.00"/>
<rect x="596.00" y="105.85" width="49.00" height="2.00"/>
<rect x="645.00" y="105.95" width="49.00" height="2.00"/>
<rect x="694.00" y="106.05" width="48.00" height="2.00"/>
<rect x="742.00" y="106.15" width="49.00" height="2.00"/>
<rect x="13.00" y="143.83" width="49.00" height="2.60"/>
<rect x="62.00" y="143.90" width="48.00" height="2.60"/>
<rect x="110.00" y="143.97" width="49.00" height="2.60"/>
<rect x="159.00" y="144.04" width="49.00" height="2.60"/>
<rect x="208.00" y="144.11" width="48.00" height="2.60"/>
<rect x="256.00" y="144.18" width="49.00" height="2.60"/>
<rect x="305.00" y="144.25" width="48.00" height="2.60"/>
<rect x="353.00" y="144.32" width="49.00" height="2.60"/>
<rect x="402.00" y="144.38" width="49.00" height="2.60"/>
<rect x="451.00" y="144.45" width="48.00" height="2.60"/>
<rect x="499.00" y="144.52" width="49.00" height="2.60"/>
<rect x="548.00" y="144.59" width="48.00" height="2.60"/>
<rect x="596.00" y="144.66" width="49.00" height="2.60"/>
<rect x="645.00" y="144.73" width="49.00" height="2.60"/>
<rect x="694.00" y="144.80" width="48.00" height="2.60"/>
<rect x="742.00" y="144.87" width="49.00" height="2.60"/>
<rect x="127.40" y="185.54" width="47.60" height="2.00"/>
<rect x="175.00" y="185.59" width="47.00" height="2.00"/>
<rect x="222.00" y="185.64" width="48.00" height="2.00"/>
<rect x="270.00" y="185.69" width="47.00" height="2.00"/>
<rect x="317.00" y="185.74" width="47.00" height="2.00"/>
<rect x="364.00" y="185.79" width="48.00" height="2.00"/>
<rect x="412.00" y="185.83" width="47.00" height="2.00"/>
<rect x="459.00" y="185.88" width="48.00" height="2.00"/>
<rect x="507.00" y="185.93" width="47.00" height="2.00"/>
<rect x="554.00" y="185.98" width="47.00" height="2.00"/>
<rect x="601.00" y="186.03" width="48.00" height="2.00"/>
<rect x="649.00" y="186.08" width="47.00" height="2.00"/>
<rect x="696.00" y="186.13" width="48.00" height="2.00"/>
<rect x="744.00" y="186.18" width="47.00" height="2.00"/>
<rect x="127.30" y="225.94" width="47.70" height="2.00"/>
<rect x="175.00" y="225.99" width="47.00" height="2.00"/>
<rect x="222.00" y="226.04" width="48.00" height="2.00"/>
<rect x="270.00" y="226.09" width="47.00" height="2.00"/>
<rect x="317.00" y="226.14" width="47.00" height="2.00"/>
<rect x="364.00" y="226.19" width="48.00" height="2.00"/>
<rect x="412.00" y="226.23" width="47.00" height="2.00"/>
<rect x="459.00" y="226.28" width="48.00" height="2.00"/>
<rect x="507.00" y="226.33" width="47.00" height="2.00"/>
<rect x="554.00" y="226.38" width="47.00" height="2.00"/>
<rect x="601.00" y="226.43" width="48.00" height="2.00"/>
<rect x="649.00" y="226.48" width="47.00" height="2.00"/>
<rect x="696.00" y="226.53" width="48.00" height="2.00"/>
<rect x="744.00" y="226.58" width="47.00" height="2.00"/>
<rect x="13.00" y="286.32" width="49.00" height="2.00"/>
<rect x="62.00" y="286.36" width="48.00" height="2.00"/>
<rect x="110.00" y="286.39" width="49.00" height="2.00"/>
<rect x="159.00" y="286.43" width="49.00" height="2.00"/>
<rect x="208.00" y="286.47" width="48.00" height="2.00"/>
<rect x="256.00" y="286.51" width="49.00" height="2.00"/>
<rect x="305.00" y="286.54" width="48.00" height="2.00"/>
<rect x="353.00" y="286.58" width="49.00" height="2.00"/>
<rect x="402.00" y="286.62" width="49.00" height="2.00"/>
<rect x="451.00" y="286.66" width="48.00" height="2.00"/>
<rect x="499.00" y="286.69" width="49.00" height="2.00"/>
<rect x="548.00" y="286.73" width="48.00" height="2.00"/>
<rect x="596.00" y="286.77" width="49.00" height="2.00"/>
<rect x="645.00" y="286.81" width="49.00" height="2.00"/>
<rect x="694.00" y="286.84" width="48.00" height="2.00"/>
<rect x="742.00" y="286.88" width="49.00" height="2.00"/>
<rect x="127.20" y="331.26" width="47.80" height="2.00"/>
<rect x="175.00" y="331.31" width="47.00" height="2.00"/>
<rect x="222.00" y="331.37" width="47.00" height="2.00"/>
<rect x="269.00" y="331.42" width="48.00" height="2.00"/>
<rect x="317.00" y="331.48" width="47.00" height="2.00"/>
<rect x="364.00" y="331.53" width="48.00" height="2.00"/>
<rect x="412.00" y="331.59" width="47.00" height="2.00"/>
<rect x="459.00" y="331.64" width="48.00" height="2.00"/>
<rect x="507.00" y="331.70" width="47.00" height="2.00"/>
<rect x="554.00" y="331.75" width="47.00" height="2.00"/>
<rect x="601.00" y="331.81" width="48.00" height="2.00"/>
<rect x="649.00" y="331.86" width="47.00" height="2.00"/>
<rect x="696.00" y="331.92" width="48.00" height="2.00"/>
<rect x="744.00" y="331.97" width="47.00" height="2.00"/>
<rect x="127.10" y="391.26" width="47.90" height="2.00"/>
<rect x="175.00" y="391.31" width="47.00" height="2.00"/>
<rect x="222.00" y="391.37" width="47.00" height="2.00"/>
<rect x="269.00" y="391.42" width="48.00" height="2.00"/>
<rect x="317.00" y="391.48" width="47.00" height="2.00"/>
<rect x="364.00" y="391.53" width="48.00" height="2.00"/>
<rect x="412.00" y="391.59" width="47.00" height="2.00"/>
<rect x="459.00" y="391.64" width="47.00" height="2.00"/>
<rect x="506.00" y="391.70" width="48.00" height="2.00"/>
<rect x="554.00" y="391.75" width="47.00" height="2.00"/>
<rect x="601.00" y="391.81" width="48.00" height="2.00"/>
<rect x="649.00" y="391.86" width="47.00" height="2.00"/>
<rect x="696.00" y="391.92" width="48.00" height="2.00"/>
<rect x="744.00" y="391.97" width="47.00" height="2.00"/>
<rect x="13.00" y="413.54" width="49.00" height="2.00"/>
<rect x="62.00" y="413.61" width="48.00" height="2.00"/>
<rect x="110.00" y="413.69" width="49.00" height="2.00"/>
<rect x="159.00" y="413.76" width="49.00" height="2.00"/>
<rect x="208.00" y="413.84" width="48.00" height="2.00"/>
<rect x="256.00" y="413.91" width="49.00" height="2.00"/>
<rect x="305.00" y="413.99" width="48.00" height="2.00"/>
<rect x="353.00" y="414.06" width="49.00" height="2.00"/>
<rect x="402.00" y="414.14" width="49.00" height="2.00"/>
<rect x="451.00" y="414.21" width="48.00" height="2.00"/>
<rect x="499.00" y="414.29" width="49.00" height="2.00"/>
<rect x="548.00" y="414.36" width="48.00" height="2.00"/>
<rect x="596.00" y="414.44" width="49.00" height="2.00"/>
<rect x="645.00" y="414.51" width="49.00" height="2.00"/>
<rect x="694.00" y="414.59" width="48.00" height="2.00"/>
<rect x="742.00" y="414.66" width="49.00" height="2.00"/>
<rect x="13.00" y="453.52" width="49.00" height="2.00"/>
<rect x="62.00" y="453.56" width="48.00" height="2.00"/>
<rect x="110.00" y="453.59" width="49.00" height="2.00"/>
<rect x="159.00" y="453.63" width="49.00" height="2.00"/>
<rect x="208.00" y="453.67" width="48.00" height="2.00"/>
<rect x="256.00" y="453.71" width="49.00" height="2.00"/>
<rect x="305.00" y="453.74" width="48.00" height="2.00"/>
<rect x="353.00" y="453.78" width="49.00" height="2.00"/>
<rect x="402.00" y="453.82" width="49.00" height="2.00"/>
<rect x="451.00" y="453.86" width="48.00" height="2.00"/>
<rect x="499.00" y="453.89" width="49.00" height="2.00"/>
<rect x="548.00" y="453.93" width="48.00" height="2.00"/>
<rect x="596.00" y="453.97" width="49.00" height="2.00"/>
<rect x="645.00" y="454.01" width="49.00" height="2.00"/>
<rect x="694.00" y="454.04" width="48.00" height="2.00"/>
<rect x="742.00" y="454.08" width="49.00" height="2.00"/>
<rect x="13.00" y="492.74" width="49.00" height="2.00"/>
<rect x="62.00" y="492.81" width="48.00" height="2.00"/>
<rect x="110.00" y="492.89" width="49.00" height="2.00"/>
<rect x="159.00" y="492.96" width="49.00" height="2.00"/>
<rect x="208.00" y="493.04" width="48.00" height="2.00"/>
<rect x="256.00" y="493.11" width="49.00" height="2.00"/>
<rect x="305.00" y="493.19" width="48.00" height="2.00"/>
<rect x="353.00" y="493.26" width="49.00" height="2.00"/>
<rect x="402.00" y="493.34" width="49.00" height="2.00"/>
<rect x="451.00" y="493.41" width="48.00" height="2.00"/>
<rect x="499.00" y="493.49" width="49.00" height="2.00"/>
<rect x="548.00" y="493.56" width="48.00" height="2.00"/>
<rect x="596.00" y="493.64" width="49.00" height="2.00"/>
<rect x="645.00" y="493.71" width="49.00" height="2.00"/>
<rect x="694.00" y="493.79" width="48.00" height="2.00"/>
<rect x="742.00" y="493.86" width="49.00" height="2.00"/>
<rect x="13.00" y="530.22" width="49.00" height="2.00"/>
<rect x="62.00" y="530.25" width="48.00" height="2.00"/>
<rect x="110.00" y="530.28" width="49.00" height="2.00"/>
<rect x="159.00" y="530.31" width="49.00" height="2.00"/>
<rect x="208.00" y="530.34" width="48.00" height="2.00"/>
<rect x="256.00" y="530.37" width="49.00" height="2.00"/>
<rect x="305.00" y="530.40" width="48.00" height="2.00"/>
<rect x="353.00" y="530.43" width="49.00" height="2.00"/>
<rect x="402.00" y="530.47" width="49.00" height="2.00"/>
<rect x="451.00" y="530.50" width="48.00" height="2.00"/>
<rect x="499.00" y="530.53" width="49.00" height="2.00"/>
<rect x="548.00" y="530.56" width="48.00" height="2.00"/>
<rect x="596.00" y="530.59" width="49.00" height="2.00"/>
<rect x="645.00" y="530.62" width="49.00" height="2.00"/>
<rect x="694.00" y="530.65" width="48.00" height="2.00"/>
<rect x="742.00" y="530.68" width="49.00" height="2.00"/>
<rect x="13.00" y="568.49" width="49.00" height="2.00"/>
<rect x="62.00" y="568.47" width="48.00" height="2.00"/>
<rect x="110.00" y="568.45" width="49.00" height="2.00"/>
<rect x="159.00" y="568.43" width="49.00" height="2.00"/>
<rect x="208.00" y="568.42" width="48.00" height="2.00"/>
<rect x="256.00" y="568.40" width="49.00" height="2.00"/>
<rect x="305.00" y="568.38" width="48.00" height="2.00"/>
<rect x="353.00" y="568.36" width="49.00" height="2.00"/>
<rect x="402.00" y="568.34" width="49.00" height="2.00"/>
<rect x="451.00" y="568.32" width="48.00" height="2.00"/>
<rect x="499.00" y="568.30" width="49.00" height="2.00"/>
<rect x="548.00" y="568.28" width="48.00" height="2.00"/>
<rect x="596.00" y="568.27" width="49.00" height="2.00"/>
<rect x="645.00" y="568.25" width="49.00" height="2.00"/>
<rect x="694.00" y="568.23" width="48.00" height="2.00"/>
<rect x="742.00" y="568.21" width="49.00" height="2.00"/>
<rect x="13.00" y="607.01" width="49.00" height="2.00"/>
<rect x="62.00" y="607.02" width="48.00" height="2.00"/>
<rect x="110.00" y="607.03" width="49.00" height="2.00"/>
<rect x="159.00" y="607.04" width="49.00" height="2.00"/>
<rect x="208.00" y="607.06" width="48.00" height="2.00"/>
<rect x="256.00" y="607.07" width="49.00" height="2.00"/>
<rect x="305.00" y="607.08" width="48.00" height="2.00"/>
<rect x="353.00" y="607.09" width="49.00" height="2.00"/>
<rect x="402.00" y="607.11" width="49.00" height="2.00"/>
<rect x="451.00" y="607.12" width="48.00" height="2.00"/>
<rect x="499.00" y="607.13" width="49.00" height="2.00"/>
<rect x="548.00" y="607.14" width="48.00" height="2.00"/>
<rect x="596.00" y="607.16" width="49.00" height="2.00"/>
<rect x="645.00" y="607.17" width="49.00" height="2.00"/>
<rect x="694.00" y="607.18" width="48.00" height="2.00"/>
<rect x="742.00" y="607.19" width="49.00" height="2.00"/>
<rect x="13.00" y="646.50" width="49.00" height="2.00"/>
<rect x="62.00" y="646.50" width="48.00" height="2.00"/>
<rect x="110.00" y="646.50" width="49.00" height="2.00"/>
<rect x="159.00" y="646.50" width="49.00" height="2.00"/>
<rect x="208.00" y="646.50" width="48.00" height="2.00"/>
<rect x="256.00" y="646.50" width="49.00" height="2.00"/>
<rect x="305.00" y="646.50" width="48.00" height="2.00"/>
<rect x="353.00" y="646.50" width="49.00" height="2.00"/>
<rect x="402.00" y="646.50" width="49.00" height="2.00"/>
<rect x="451.00" y="646.50" width="48.00" height="2.00"/>
<rect x="499.00" y="646.50" width="49.00" height="2.00"/>
<rect x="548.00" y="646.50" width="48.00" height="2.00"/>
<rect x="596.00" y="646.50" width="49.00" height="2.00"/>
<rect x="645.00" y="646.50" width="49.00" height="2.00"/>
<rect x="694.00" y="646.50" width="48.00" height="2.00"/>
<rect x="742.00" y="646.50" width="49.00" height="2.00"/>
<rect x="13.00" y="690.93" width="49.00" height="2.00"/>
<rect x="62.00" y="690.99" width="48.00" height="2.00"/>
<rect x="110.00" y="691.06" width="49.00" height="2.00"/>
<rect x="159.00" y="691.12" width="49.00" height="2.00"/>
<rect x="208.00" y="691.18" width="48.00" height="2.00"/>
<rect x="256.00" y="691.24" width="49.00" height="2.00"/>
<rect x="305.00" y="691.31" width="48.00" height="2.00"/>
<rect x="353.00" y="691.37" width="49.00" height="2.00"/>
<rect x="402.00" y="691.43" width="49.00" height="2.00"/>
<rect x="451.00" y="691.49" width="48.00" height="2.00"/>
<rect x="499.00" y="691.56" width="49.00" height="2.00"/>
<rect x="548.00" y="691.62" width="48.00" height="2.00"/>
<rect x="596.00" y="691.68" width="49.00" height="2.00"/>
<rect x="645.00" y="691.74" width="49.00" height="2.00"/>
<rect x="694.00" y="691.81" width="48.00" height="2.00"/>
<rect x="742.00" y="691.87" width="49.00" height="2.00"/>
<rect x="13.00" y="729.43" width="49.00" height="2.00"/>
<rect x="62.00" y="729.48" width="48.00" height="2.00"/>
<rect x="110.00" y="729.54" width="49.00" height="2.00"/>
<rect x="159.00" y="729.60" width="49.00" height="2.00"/>
<rect x="208.00" y="729.65" width="48.00" height="2.00"/>
<rect x="256.00" y="729.71" width="49.00" height="2.00"/>
<rect x="305.00" y="729.77" width="48.00" height="2.00"/>
<rect x="353.00" y="729.82" width="49.00" height="2.00"/>
<rect x="402.00" y="729.88" width="49.00" height="2.00"/>
<rect x="451.00" y="729.93" width="48.00" height="2.00"/>
<rect x="499.00" y="729.99" width="49.00" height="2.00"/>
<rect x="548.00" y="730.05" width="48.00" height="2.00"/>
<rect x="596.00" y="730.10" width="49.00" height="2.00"/>
<rect x="645.00" y="730.16" width="49.00" height="2.00"/>
<rect x="694.00" y="730.22" width="48.00" height="2.00"/>
<rect x="742.00" y="730.27" width="49.00" height="2.00"/>
<rect x="12.00" y="767.19" width="49.00" height="2.90"/>
<rect x="61.00" y="767.27" width="48.00" height="2.90"/>
<rect x="109.00" y="767.35" width="49.00" height="2.90"/>
<rect x="158.00" y="767.43" width="49.00" height="2.90"/>
<rect x="207.00" y="767.51" width="49.00" height="2.90"/>
<rect x="256.00" y="767.60" width="48.00" height="2.90"/>
<rect x="304.00" y="767.68" width="49.00" height="2.90"/>
<rect x="353.00" y="767.76" width="49.00" height="2.90"/>
<rect x="402.00" y="767.84" width="48.00" height="2.90"/>
<rect x="450.00" y="767.92" width="49.00" height="2.90"/>
<rect x="499.00" y="768.00" width="49.00" height="2.90"/>
<rect x="548.00" y="768.08" width="48.00" height="2.90"/>
<rect x="596.00" y="768.17" width="49.00" height="2.90"/>
<rect x="645.00" y="768.25" width="49.00" height="2.90"/>
<rect x="694.00" y="768.33" width="48.00" height="2.90"/>
<rect x="742.00" y="768.41" width="49.20" height="2.90"/>
<rect x="13.00" y="776.10" width="49.00" height="3.00"/>
<rect x="62.00" y="776.09" width="48.00" height="3.00"/>
<rect x="110.00" y="776.08" width="49.00" height="3.00"/>
<rect x="159.00" y="776.08" width="48.00" height="3.00"/>
<rect x="207.00" y="776.07" width="49.00" height="3.00"/>
<rect x="256.00" y="776.07" width="48.00" height="3.00"/>
<rect x="304.00" y="776.06" width="49.00" height="3.00"/>
<rect x="353.00" y="776.05" width="49.00" height="3.00"/>
<rect x="402.00" y="776.05" width="48.00" height="3.00"/>
<rect x="450.00" y="776.04" width="49.00" height="3.00"/>
<rect x="499.00" y="776.03" width="48.00" height="3.00"/>
<rect x="547.00" y="776.03" width="49.00" height="3.00"/>
<rect x="596.00" y="776.02" width="48.00" height="3.00"/>
<rect x="644.00" y="776.02" width="49.00" height="3.00"/>
<rect x="693.00" y="776.01" width="48.00" height="3.00"/>
<rect x="741.00" y="776.00" width="49.00" height="3.00"/>
<rect x="14.00" y="822.32" width="48.00" height="2.00"/>
<rect x="62.00" y="822.37" width="49.00" height="2.00"/>
<rect x="111.00" y="822.41" width="48.00" height="2.00"/>
<rect x="159.00" y="822.45" width="49.00" height="2.00"/>
<rect x="208.00" y="822.50" width="48.00" height="2.00"/>
<rect x="256.00" y="822.54" width="49.00" height="2.00"/>
<rect x="305.00" y="822.58" width="48.00" height="2.00"/>
<rect x="353.00" y="822.63" width="49.00" height="2.00"/>
<rect x="402.00" y="822.67" width="48.00" height="2.00"/>
<rect x="450.00" y="822.71" width="48.00" height="2.00"/>
<rect x="498.00" y="822.76" width="49.00" height="2.00"/>
<rect x="547.00" y="822.80" width="48.00" height="2.00"/>
<rect x="595.00" y="822.85" width="49.00" height="2.00"/>
<rect x="644.00" y="822.89" width="48.00" height="2.00"/>
<rect x="692.00" y="822.93" width="49.00" height="2.00"/>
<rect x="741.00" y="822.98" width="48.00" height="2.00"/>
<rect x="13.00" y="865.41" width="49.00" height="3.20"/>
<rect x="62.00" y="865.44" width="48.00" height="3.20"/>
<rect x="110.00" y="865.46" width="49.00" height="3.20"/>
<rect x="159.00" y="865.49" width="48.00" height="3.20"/>
<rect x="207.00" y="865.51" width="49.00" height="3.20"/>
<rect x="256.00" y="865.54" width="48.00" height="3.20"/>
<rect x="304.00" y="865.56" width="49.00" height="3.20"/>
<rect x="353.00" y="865.59" width="49.00" height="3.20"/>
<rect x="402.00" y="865.61" width="48.00" height="3.20"/>
<rect x="450.00" y="865.64" width="49.00" height="3.20"/>
<rect x="499.00" y="865.66" width="48.00" height="3.20"/>
<rect x="547.00" y="865.69" width="49.00" height="3.20"/>
<rect x="596.00" y="865.71" width="48.00" height="3.20"/>
<rect x="644.00" y="865.74" width="49.00" height="3.20"/>
<rect x="693.00" y="865.76" width="48.00" height="3.20"/>
<rect x="741.00" y="865.79" width="49.00" height="3.20"/>
<rect x="13.00" y="777.00" width="2.60" height="45.00"/>
<rect x="13.00" y="822.00" width="2.60" height="46.00"/>
<rect x="787.00" y="777.00" width="3.00" height="45.00"/>
<rect x="787.00" y="822.00" width="3.00" height="46.00"/>
</g>
</g></svg>
<svg style="position:absolute;left:0;top:640px" width="30" height="50" viewBox="0 0 30 50"><path d="M-0.5 34.6 C4 29 8 21.5 12 17.6 S17 13.4 20 11.2" fill="none" stroke="#d4ad90" stroke-width="1.6" stroke-linecap="round"/></svg>
<div id="txt">
<span class="t" style="left:20.27px;top:6.96px;font-size:18.80px">N° plaque :</span>
<span class="t" style="left:20.31px;top:31.86px;font-size:18.80px">Kilométrage :</span>
<span class="t" style="left:169.27px;top:6.70px;font-size:18.80px">AW-348-HY</span>
<span class="t" style="left:168.51px;top:31.60px;font-size:18.80px">242374</span>
<span class="t" style="left:432.87px;top:6.94px;font-size:18.80px">Opérateur :</span>
<span class="t" style="left:432.31px;top:30.94px;font-size:18.80px">No.</span>
<span class="t c b" style="left:403.12px;top:58.99px;font-size:21.55px">RAPPORT Géométrie Véhicule</span>
<span class="t c" style="left:398.15px;top:82.00px;font-size:15.20px">AUDI, AUDI 200, 90-91, 20V Quattro</span>
<span class="t b" style="left:19.66px;top:111.26px;font-size:21.40px">Angles Principaux</span>
<span class="t b" style="left:20.80px;top:421.66px;font-size:21.40px">Angles secondaires</span>
<span class="t c" style="left:445.65px;top:111.67px;font-size:15.20px">Initiale</span>
<span class="t c" style="left:595.05px;top:110.41px;font-size:15.20px">Spécifications</span>
<span class="t c" style="left:547.38px;top:127.24px;font-size:15.20px">Min</span>
<span class="t c" style="left:641.68px;top:127.08px;font-size:15.20px">Maxi.</span>
<span class="t c" style="left:738.96px;top:114.31px;font-size:15.20px">Final</span>
<span class="t c" style="left:445.59px;top:419.42px;font-size:15.20px">Initiale</span>
<span class="t c" style="left:595.58px;top:416.66px;font-size:15.20px">Spécifications</span>
<span class="t c" style="left:547.52px;top:434.94px;font-size:15.20px">Min</span>
<span class="t c" style="left:640.91px;top:434.08px;font-size:15.20px">Maxi.</span>
<span class="t c" style="left:742.19px;top:418.80px;font-size:15.20px">Final</span>
<span class="t" style="left:18.91px;top:202.36px;font-size:15.20px">Avant</span>
<span class="t" style="left:19.05px;top:340.76px;font-size:15.20px">Arrière</span>
<span class="t" style="left:131.51px;top:147.57px;font-size:15.20px">Chasse</span>
<span class="t" style="left:131.59px;top:190.27px;font-size:15.20px">Carrossage</span>
<span class="t" style="left:131.66px;top:229.67px;font-size:15.20px">PARA.</span>
<span class="t" style="left:131.76px;top:290.37px;font-size:15.20px">Carrossage</span>
<span class="t" style="left:131.84px;top:335.37px;font-size:15.20px">PARA.</span>
<span class="t" style="left:129.25px;top:396.87px;font-size:15.20px">Angle de trajectoire</span>
<span class="t" style="left:300.41px;top:147.27px;font-size:15.20px">Gauche</span>
<span class="t" style="left:300.45px;top:165.97px;font-size:15.20px">Droit</span>
<span class="t" style="left:300.48px;top:186.57px;font-size:15.20px">Gauche</span>
<span class="t" style="left:300.52px;top:206.87px;font-size:15.20px">Droit</span>
<span class="t" style="left:300.55px;top:225.57px;font-size:15.20px">Gauche</span>
<span class="t" style="left:300.59px;top:246.27px;font-size:15.20px">Droit</span>
<span class="t" style="left:300.62px;top:265.92px;font-size:15.20px">Total</span>
<span class="t" style="left:300.66px;top:287.92px;font-size:15.20px">Gauche</span>
<span class="t" style="left:300.70px;top:310.92px;font-size:15.20px">Droit</span>
<span class="t" style="left:300.74px;top:332.67px;font-size:15.20px">Gauche</span>
<span class="t" style="left:300.77px;top:353.42px;font-size:15.20px">Droit</span>
<span class="t" style="left:300.81px;top:372.67px;font-size:15.20px">Total</span>
<span class="t c" style="left:445.12px;top:148.92px;font-size:15.20px">0°48'</span>
<span class="t c" style="left:445.15px;top:167.62px;font-size:15.20px">1°26'</span>
<span class="t c" style="left:445.19px;top:189.12px;font-size:15.20px">-0°48'</span>
<span class="t c" style="left:445.22px;top:208.02px;font-size:15.20px">-0°44'</span>
<span class="t c" style="left:445.25px;top:228.12px;font-size:15.20px">0°17'</span>
<span class="t c" style="left:445.29px;top:247.92px;font-size:15.20px">-0°10'</span>
<span class="t c" style="left:445.33px;top:268.52px;font-size:15.20px">0°08'</span>
<span class="t c" style="left:445.37px;top:293.17px;font-size:15.20px">-0°32'</span>
<span class="t c" style="left:445.40px;top:313.67px;font-size:15.20px">-0°43'</span>
<span class="t c" style="left:445.44px;top:334.92px;font-size:15.20px">-0°05'</span>
<span class="t c" style="left:445.48px;top:354.92px;font-size:15.20px">0°04'</span>
<span class="t c" style="left:445.51px;top:376.92px;font-size:15.20px">-0°01'</span>
<span class="t c" style="left:445.55px;top:395.67px;font-size:15.20px">0°05'</span>
<span class="t c" style="left:547.02px;top:148.24px;font-size:15.20px">0°35'</span>
<span class="t c" style="left:547.05px;top:167.24px;font-size:15.20px">0°35'</span>
<span class="t c" style="left:547.09px;top:188.74px;font-size:15.20px">-1°00'</span>
<span class="t c" style="left:547.13px;top:211.14px;font-size:15.20px">-1°00'</span>
<span class="t c" style="left:547.16px;top:228.74px;font-size:15.20px">0°03'</span>
<span class="t c" style="left:547.19px;top:247.34px;font-size:15.20px">0°03'</span>
<span class="t c" style="left:547.22px;top:266.14px;font-size:15.20px">0°05'</span>
<span class="t c" style="left:547.27px;top:292.99px;font-size:15.20px">-0°30'</span>
<span class="t c" style="left:547.30px;top:312.99px;font-size:15.20px">-0°30'</span>
<span class="t c" style="left:547.34px;top:335.49px;font-size:15.20px">0°00'</span>
<span class="t c" style="left:547.38px;top:354.74px;font-size:15.20px">0°00'</span>
<span class="t c" style="left:547.41px;top:376.74px;font-size:15.20px">0°00'</span>
<span class="t c" style="left:641.72px;top:148.58px;font-size:15.20px">1°55'</span>
<span class="t c" style="left:641.75px;top:167.08px;font-size:15.20px">1°55'</span>
<span class="t c" style="left:641.79px;top:188.58px;font-size:15.20px">0°00'</span>
<span class="t c" style="left:641.83px;top:210.98px;font-size:15.20px">0°00'</span>
<span class="t c" style="left:641.86px;top:228.58px;font-size:15.20px">0°10'</span>
<span class="t c" style="left:641.89px;top:247.78px;font-size:15.20px">0°10'</span>
<span class="t c" style="left:641.92px;top:266.48px;font-size:15.20px">0°20'</span>
<span class="t c" style="left:641.97px;top:292.83px;font-size:15.20px">0°00'</span>
<span class="t c" style="left:642.00px;top:312.83px;font-size:15.20px">0°00'</span>
<span class="t c" style="left:642.04px;top:335.33px;font-size:15.20px">0°10'</span>
<span class="t c" style="left:642.08px;top:354.58px;font-size:15.20px">0°10'</span>
<span class="t c" style="left:642.11px;top:376.58px;font-size:15.20px">0°20'</span>
<span class="t c" style="left:738.32px;top:149.21px;font-size:15.20px">1°07'</span>
<span class="t c" style="left:738.35px;top:167.21px;font-size:15.20px">1°16'</span>
<span class="t c" style="left:738.39px;top:189.71px;font-size:15.20px">-0°55'</span>
<span class="t c" style="left:738.43px;top:211.21px;font-size:15.20px">-0°57'</span>
<span class="t c" style="left:738.46px;top:229.91px;font-size:15.20px">0°08'</span>
<span class="t c" style="left:738.49px;top:248.41px;font-size:15.20px">0°06'</span>
<span class="t c" style="left:738.52px;top:267.01px;font-size:15.20px">0°14'</span>
<span class="t c" style="left:738.57px;top:294.31px;font-size:15.20px">-0°01'</span>
<span class="t c" style="left:738.60px;top:312.71px;font-size:15.20px">-0°16'</span>
<span class="t c" style="left:738.64px;top:335.91px;font-size:15.20px">0°07'</span>
<span class="t c" style="left:738.68px;top:356.21px;font-size:15.20px">0°04'</span>
<span class="t c" style="left:738.72px;top:377.21px;font-size:15.20px">0°10'</span>
<span class="t c" style="left:738.75px;top:395.71px;font-size:15.20px">-0°01'</span>
<span class="t c d" style="left:600.45px;top:395.05px;font-size:15.20px">----</span>
<span class="t" style="left:21.27px;top:464.66px;font-size:15.20px">Pivot</span>
<span class="t" style="left:21.32px;top:495.16px;font-size:15.20px">Angle Inclus</span>
<span class="t" style="left:21.39px;top:533.91px;font-size:15.20px">Angles Divergence</span>
<span class="t" style="left:21.45px;top:572.16px;font-size:15.20px">Braquage max intérieur</span>
<span class="t" style="left:21.52px;top:610.66px;font-size:15.20px">Décalage des roues</span>
<span class="t" style="left:21.59px;top:649.66px;font-size:15.20px">Diff. Voie</span>
<span class="t" style="left:21.63px;top:671.91px;font-size:15.20px">Diff. Empattement</span>
<span class="t" style="left:21.67px;top:695.16px;font-size:15.20px">Hauteur avant</span>
<span class="t" style="left:21.74px;top:733.91px;font-size:15.20px">Hauteur arrière</span>
<span class="t" style="left:297.05px;top:457.68px;font-size:15.20px">Gauche</span>
<span class="t" style="left:297.08px;top:474.18px;font-size:15.20px">Droit</span>
<span class="t" style="left:297.12px;top:495.93px;font-size:15.20px">Gauche</span>
<span class="t" style="left:297.15px;top:512.68px;font-size:15.20px">Droit</span>
<span class="t" style="left:297.19px;top:534.68px;font-size:15.20px">Gauche</span>
<span class="t" style="left:297.22px;top:551.43px;font-size:15.20px">Droit</span>
<span class="t" style="left:297.26px;top:572.93px;font-size:15.20px">Gauche</span>
<span class="t" style="left:297.29px;top:589.68px;font-size:15.20px">Droit</span>
<span class="t" style="left:297.32px;top:609.68px;font-size:15.20px">Avant</span>
<span class="t" style="left:297.35px;top:626.43px;font-size:15.20px">Arrière</span>
<span class="t" style="left:297.47px;top:694.68px;font-size:15.20px">Gauche</span>
<span class="t" style="left:297.50px;top:711.43px;font-size:15.20px">Droit</span>
<span class="t" style="left:297.54px;top:732.93px;font-size:15.20px">Gauche</span>
<span class="t" style="left:297.56px;top:749.68px;font-size:15.20px">Droit</span>
<span class="t c" style="left:445.26px;top:457.92px;font-size:15.20px">13°25'</span>
<span class="t c" style="left:445.29px;top:474.92px;font-size:15.20px">13°34'</span>
<span class="t c" style="left:445.32px;top:496.32px;font-size:15.20px">12°37'</span>
<span class="t c" style="left:445.35px;top:512.92px;font-size:15.20px">12°50'</span>
<span class="t c d" style="left:445.19px;top:535.02px;font-size:15.20px">----</span>
<span class="t c d" style="left:445.22px;top:551.32px;font-size:15.20px">----</span>
<span class="t c d" style="left:445.26px;top:573.82px;font-size:15.20px">----</span>
<span class="t c d" style="left:445.29px;top:590.12px;font-size:15.20px">----</span>
<span class="t c d" style="left:445.47px;top:695.02px;font-size:15.20px">----</span>
<span class="t c d" style="left:445.50px;top:711.62px;font-size:15.20px">----</span>
<span class="t c d" style="left:445.54px;top:734.22px;font-size:15.20px">----</span>
<span class="t c d" style="left:445.57px;top:750.12px;font-size:15.20px">----</span>
<span class="t c" style="left:444.73px;top:612.42px;font-size:15.20px">-10mm</span>
<span class="t c" style="left:444.75px;top:628.72px;font-size:15.20px">-7mm</span>
<span class="t c" style="left:444.79px;top:650.52px;font-size:15.20px">-4mm</span>
<span class="t c" style="left:444.83px;top:672.72px;font-size:15.20px">-4mm</span>
<span class="t c d" style="left:547.86px;top:457.64px;font-size:15.20px">----</span>
<span class="t c d" style="left:642.56px;top:457.48px;font-size:15.20px">----</span>
<span class="t c d" style="left:547.88px;top:474.39px;font-size:15.20px">----</span>
<span class="t c d" style="left:642.58px;top:474.23px;font-size:15.20px">----</span>
<span class="t c d" style="left:547.92px;top:496.14px;font-size:15.20px">----</span>
<span class="t c d" style="left:642.62px;top:495.98px;font-size:15.20px">----</span>
<span class="t c d" style="left:547.95px;top:512.39px;font-size:15.20px">----</span>
<span class="t c d" style="left:642.65px;top:512.23px;font-size:15.20px">----</span>
<span class="t c d" style="left:548.06px;top:573.64px;font-size:15.20px">----</span>
<span class="t c d" style="left:642.76px;top:573.48px;font-size:15.20px">----</span>
<span class="t c d" style="left:548.09px;top:589.89px;font-size:15.20px">----</span>
<span class="t c d" style="left:642.79px;top:589.73px;font-size:15.20px">----</span>
<span class="t c d" style="left:548.12px;top:611.89px;font-size:15.20px">----</span>
<span class="t c d" style="left:642.82px;top:611.73px;font-size:15.20px">----</span>
<span class="t c d" style="left:548.15px;top:628.64px;font-size:15.20px">----</span>
<span class="t c d" style="left:642.85px;top:628.48px;font-size:15.20px">----</span>
<span class="t c d" style="left:548.27px;top:694.39px;font-size:15.20px">----</span>
<span class="t c d" style="left:642.97px;top:694.23px;font-size:15.20px">----</span>
<span class="t c d" style="left:548.30px;top:710.64px;font-size:15.20px">----</span>
<span class="t c d" style="left:643.00px;top:710.48px;font-size:15.20px">----</span>
<span class="t c d" style="left:548.34px;top:733.14px;font-size:15.20px">----</span>
<span class="t c d" style="left:643.04px;top:732.98px;font-size:15.20px">----</span>
<span class="t c d" style="left:548.37px;top:749.89px;font-size:15.20px">----</span>
<span class="t c d" style="left:643.07px;top:749.73px;font-size:15.20px">----</span>
<span class="t c" style="left:548.19px;top:534.74px;font-size:15.20px">1°00'</span>
<span class="t c" style="left:642.79px;top:534.58px;font-size:15.20px">1°00'</span>
<span class="t c" style="left:548.22px;top:550.99px;font-size:15.20px">1°00'</span>
<span class="t c" style="left:642.82px;top:550.83px;font-size:15.20px">1°00'</span>
<span class="t c" style="left:741.76px;top:457.80px;font-size:15.20px">13°28'</span>
<span class="t c" style="left:741.79px;top:474.40px;font-size:15.20px">13°31'</span>
<span class="t c" style="left:741.82px;top:495.90px;font-size:15.20px">12°33'</span>
<span class="t c" style="left:741.85px;top:512.80px;font-size:15.20px">12°34'</span>
<span class="t c d" style="left:741.19px;top:535.30px;font-size:15.20px">----</span>
<span class="t c d" style="left:741.22px;top:551.80px;font-size:15.20px">----</span>
<span class="t c d" style="left:741.26px;top:574.50px;font-size:15.20px">----</span>
<span class="t c d" style="left:741.29px;top:590.30px;font-size:15.20px">----</span>
<span class="t c d" style="left:741.47px;top:695.30px;font-size:15.20px">----</span>
<span class="t c d" style="left:741.50px;top:711.60px;font-size:15.20px">----</span>
<span class="t c d" style="left:741.54px;top:733.70px;font-size:15.20px">----</span>
<span class="t c d" style="left:741.57px;top:750.30px;font-size:15.20px">----</span>
<span class="t c" style="left:740.93px;top:612.01px;font-size:15.20px">-6mm</span>
<span class="t c" style="left:740.95px;top:628.21px;font-size:15.20px">-5mm</span>
<span class="t c" style="left:740.99px;top:650.11px;font-size:15.20px">-4mm</span>
<span class="t c" style="left:741.03px;top:672.61px;font-size:15.20px">-2mm</span>
<span class="t" style="left:19.37px;top:782.17px;font-size:15.20px">Remarque 1</span>
<span class="t" style="left:19.45px;top:826.42px;font-size:15.20px">Remarque 2</span>
</div>
</div>
</body>
</html>
